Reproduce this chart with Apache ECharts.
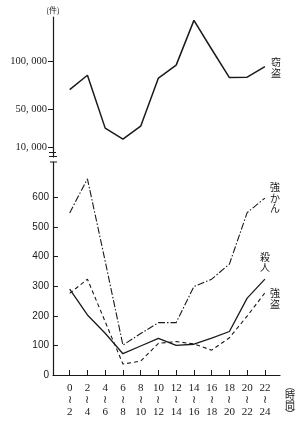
<!DOCTYPE html>
<html>
<head>
<meta charset="utf-8">
<script src="https://cdn.jsdelivr.net/npm/echarts@6/dist/echarts.min.js"></script>
<style>html,body{margin:0;padding:0;background:#fff;}#c{width:303px;height:422px;}</style>
</head>
<body>
<div id="c"></div>
<script>
// categories (time bands)
const startHours = ['0','2','4','6','8','10','12','14','16','18','20','22'];
const endHours   = ['2','4','6','8','10','12','14','16','18','20','22','24'];
// series values
const theftValues   = [70000, 85000, 30000, 18500, 32000, 82000, 95500, 142000, 112000, 82500, 83000, 94000]; // 窃盗
const rapeValues    = [548, 663, 385, 101, 140, 177, 177, 299, 324, 375, 549, 598]; // 強かん
const murderValues  = [290, 203, 141, 72, 98, 124, 100, 104, 125, 147, 260, 324];  // 殺人
const robberyValues = [276, 324, 180, 37, 47, 107, 113, 105, 84, 126, 199, 278];   // 強盗
// tick labels
const topTicks = [10000, 50000, 100000];
const bottomTicks = [0, 100, 200, 300, 400, 500, 600];

const idx = startHours.map((_, i) => i);
const pairs = vals => vals.map((v, i) => [i, v]);

const INK = '#1a1a1a';
const serif = '"Liberation Serif", "DejaVu Serif", serif';
const sans = '"Liberation Sans", Arial, sans-serif';
const cjk = '"Noto Sans CJK JP", sans-serif';

const chart = echarts.init(document.getElementById('c'), null, {renderer: 'canvas'});

const xCommon = {type: 'value', min: -0.94, max: 11.85, splitLine: {show: false}};

chart.setOption({
  animation: false,
  backgroundColor: '#fff',
  grid: [
    {left: 53, width: 227, top: 17, height: 140},
    {left: 53, width: 227, top: 162, height: 213}
  ],
  xAxis: [
    Object.assign({gridIndex: 0, show: false}, xCommon),
    Object.assign({
      gridIndex: 1,
      axisLine: {show: true, onZero: false, lineStyle: {color: INK, width: 1.2}},
      axisTick: {show: true, inside: true, length: 5, customValues: idx, lineStyle: {color: INK, width: 1}},
      axisLabel: {
        customValues: idx,
        margin: 7,
        fontFamily: serif, fontSize: 11, color: INK, lineHeight: 12,
        formatter: v => startHours[v] + '\n≀\n' + endHours[v]
      },
      name: '︵\n時\n間\n︶',
      nameLocation: 'end',
      nameGap: 5,
      nameTextStyle: {fontFamily: cjk, fontSize: 10, lineHeight: 9.5, color: INK, align: 'left', verticalAlign: 'top', padding: [6, 0, 0, 0]}
    }, xCommon)
  ],
  yAxis: [
    {
      gridIndex: 0, type: 'value', min: 0, max: 145500,
      splitLine: {show: false},
      axisLine: {show: true, onZero: false, lineStyle: {color: INK, width: 1.2}},
      axisTick: {show: true, inside: false, length: 5, customValues: topTicks, lineStyle: {color: INK}},
      axisLabel: {customValues: topTicks, margin: 6, fontFamily: serif, fontSize: 10.5, color: INK,
        formatter: v => v.toLocaleString('en-US').replace(',', ', ')},
      name: '(件)', nameLocation: 'end', nameGap: 3,
      nameTextStyle: {fontFamily: cjk, fontSize: 8, color: INK, align: 'center'}
    },
    {
      gridIndex: 1, type: 'value', min: 0, max: 720,
      splitLine: {show: false},
      axisLine: {show: true, onZero: false, lineStyle: {color: INK, width: 1.2}},
      axisTick: {show: true, inside: true, length: 5, customValues: bottomTicks, lineStyle: {color: INK}},
      axisLabel: {customValues: bottomTicks, margin: 4, fontFamily: sans, fontSize: 10, color: INK}
    }
  ],
  series: [
    {
      name: '窃盗', type: 'line', xAxisIndex: 0, yAxisIndex: 0, data: pairs(theftValues),
      symbol: 'none', lineStyle: {color: INK, width: 1.5, type: 'solid'},
      endLabel: {show: true, formatter: '窃\n盗', distance: 6, offset: [0, 1], fontFamily: cjk, fontSize: 10, lineHeight: 10.5, color: INK}
    },
    {
      name: '強かん', type: 'line', xAxisIndex: 1, yAxisIndex: 1, data: pairs(rapeValues),
      symbol: 'none', lineStyle: {color: INK, width: 1.1, type: [7, 2, 1.5, 2]},
      endLabel: {show: true, formatter: '強\nか\nん', distance: 5, offset: [0, 0], fontFamily: cjk, fontSize: 10, lineHeight: 10.5, color: INK}
    },
    {
      name: '殺人', type: 'line', xAxisIndex: 1, yAxisIndex: 1, data: pairs(murderValues),
      symbol: 'none', lineStyle: {color: INK, width: 1.3, type: 'solid'},
      endLabel: {show: true, formatter: '殺\n人', distance: 5, offset: [-10, -17], fontFamily: cjk, fontSize: 10, lineHeight: 10.5, color: INK}
    },
    {
      name: '強盗', type: 'line', xAxisIndex: 1, yAxisIndex: 1, data: pairs(robberyValues),
      symbol: 'none', lineStyle: {color: INK, width: 1.1, type: [4, 3]},
      endLabel: {show: true, formatter: '強\n盗', distance: 5, offset: [0, 6], fontFamily: cjk, fontSize: 10, lineHeight: 10.5, color: INK}
    }
  ],
  graphic: [
    // axis break marks
    {type: 'line', shape: {x1: 49, y1: 152.5, x2: 56, y2: 152.5}, style: {stroke: INK, lineWidth: 1}},
    {type: 'line', shape: {x1: 49, y1: 156.5, x2: 57, y2: 156.5}, style: {stroke: INK, lineWidth: 1}},
    {type: 'line', shape: {x1: 50, y1: 162, x2: 57, y2: 162}, style: {stroke: INK, lineWidth: 1}}
  ]
});
</script>
</body>
</html>
